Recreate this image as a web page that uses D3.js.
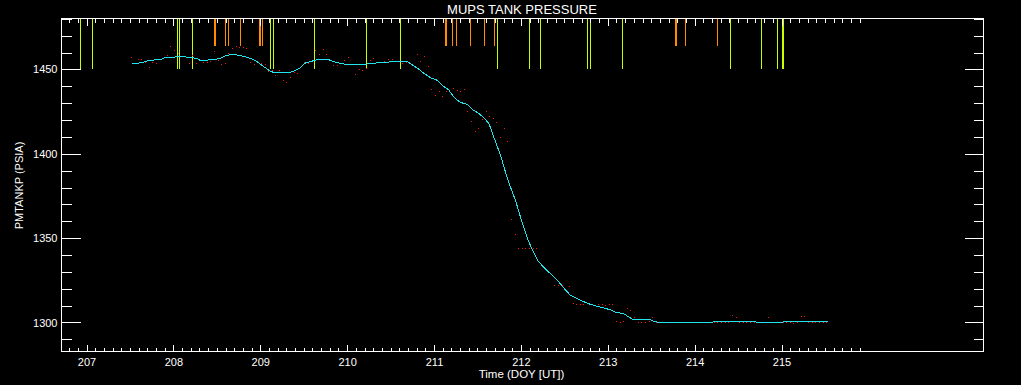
<!DOCTYPE html>
<html><head><meta charset="utf-8">
<script src="https://cdn.jsdelivr.net/npm/d3@7"></script>
<style>html,body{margin:0;padding:0;background:#000;overflow:hidden}svg{display:block}</style>
</head><body>
<svg id="c" width="1021" height="385"></svg>
<script>
const title = "MUPS TANK PRESSURE";
const xTitle = "Time (DOY [UT])";
const yTitle = "PMTANKP (PSIA)";
const xDomain = [206.712, 217.325];
const yDomain = [1282.8, 1480.2];
const xMajorTicks = [207, 208, 209, 210, 211, 212, 213, 214, 215];
const xMinorTicks = d3.range(2068, 2160).map(v => v / 10);
const yMajorTicks = [1300, 1350, 1400, 1450];
const yMinorTicks = d3.range(1290, 1481, 10);

const smoothT = [207.518,207.576,207.622,207.656,207.702,207.748,207.794,207.852,207.886,207.944,
207.990,208.059,208.117,208.174,208.232,208.278,208.312,208.370,208.427,208.485,
208.543,208.600,208.658,208.715,208.773,208.830,208.888,208.945,209.003,209.061,
209.118,209.176,209.233,209.325,209.383,209.429,209.464,209.521,209.579,209.659,
209.728,209.786,209.843,209.924,210.004,210.096,210.188,210.269,210.361,210.442,
210.522,210.614,210.695,210.730,210.787,210.822,210.879,210.960,211.041,211.110,
211.167,211.225,211.282,211.340,211.386,211.443,211.512,211.570,211.627,211.650,
211.674,211.731,211.766,211.823,211.881,211.938,211.996,212.031,212.077,212.134,
212.192,212.261,212.341,212.422,212.491,212.572,212.687,212.802,212.917,213.032,
213.090,213.182,213.297,213.493,213.527,213.584,214.206,214.218,214.701,214.713,
215.012,215.023,215.530];
const smoothV = [1453.4,1453.4,1454.0,1454.3,1455.2,1455.2,1455.8,1455.8,1456.7,1457.1,
1457.1,1457.7,1457.7,1457.1,1456.8,1456.3,1455.3,1455.3,1455.9,1455.9,
1456.7,1458.1,1458.7,1458.7,1458.1,1457.5,1456.5,1455.3,1453.0,1450.9,
1448.8,1448.0,1448.0,1448.0,1449.0,1450.0,1451.2,1453.9,1454.7,1455.8,
1455.9,1455.8,1454.7,1453.6,1452.8,1452.8,1453.0,1453.4,1454.0,1454.3,
1454.5,1454.6,1454.6,1453.4,1451.4,1450.3,1447.9,1445.1,1443.5,1439.9,
1438.0,1434.0,1431.2,1429.8,1429.3,1426.1,1424.1,1421.5,1418.2,1415.6,
1411.9,1403.9,1399.0,1389.1,1380.2,1372.3,1362.4,1356.5,1349.6,1342.7,
1336.8,1332.8,1328.9,1324.9,1320.6,1316.0,1313.1,1310.7,1309.1,1307.5,
1306.1,1305.2,1301.6,1301.6,1300.8,1300.0,1300.0,1300.6,1300.6,1300.0,
1300.0,1300.6,1300.6];

const rawT = [207.518,207.602,207.633,207.679,207.729,207.763,207.806,207.852,207.890,207.936,
207.970,208.016,208.062,208.143,208.189,208.224,208.270,208.350,208.396,208.431,
208.477,208.523,208.557,208.603,208.638,208.684,208.730,208.765,208.811,208.845,
208.891,208.937,208.972,209.018,209.064,209.098,209.145,209.179,209.225,209.271,
209.306,209.352,209.398,209.432,209.513,209.559,209.640,209.686,209.732,209.766,
209.847,209.893,209.973,210.019,210.100,210.146,210.181,210.227,210.273,210.307,
210.434,210.480,210.526,210.572,210.641,210.687,210.814,210.848,210.894,210.940,
210.975,211.021,211.067,211.101,211.147,211.228,211.274,211.309,211.355,211.389,
211.435,211.481,211.516,211.562,211.608,211.642,211.688,211.723,211.769,211.815,
211.850,211.896,211.942,211.976,212.022,212.057,212.103,212.149,212.184,212.391,
212.437,212.483,212.563,212.609,212.644,212.690,212.724,212.897,212.943,212.977,
213.023,213.058,213.104,213.150,213.185,213.231,213.265,213.311,213.357,213.392,
213.438,213.484,213.519,213.565,214.232,214.266,214.312,214.358,214.393,214.439,
214.485,214.520,214.566,214.600,214.646,214.692,214.853,215.026,215.060,215.106,
215.141,215.187,215.233,215.267,215.314,215.360,215.394,215.440,215.486,215.521];
const rawV = [1456.9,1455.8,1455.8,1454.0,1451.0,1454.0,1453.4,1455.9,1456.3,1458.1,
1463.5,1461.1,1459.3,1457.5,1453.4,1458.3,1453.4,1454.0,1454.0,1454.6,
1460.5,1455.2,1452.8,1453.4,1459.3,1462.3,1463.5,1462.9,1462.9,1462.3,
1454.0,1452.8,1454.0,1453.4,1452.8,1448.6,1449.2,1446.3,1449.2,1443.3,
1442.1,1445.1,1448.0,1447.5,1454.0,1453.4,1461.1,1458.7,1461.7,1458.7,
1452.2,1452.2,1455.2,1456.9,1446.9,1449.8,1449.2,1450.4,1455.2,1456.3,
1454.6,1455.8,1455.8,1454.6,1453.4,1454.0,1458.7,1454.6,1457.5,1451.6,
1438.0,1434.4,1436.8,1433.8,1436.8,1438.6,1437.4,1436.8,1438.0,1424.9,
1419.0,1413.1,1414.8,1420.2,1424.9,1422.0,1420.8,1418.4,1409.5,1414.8,
1407.1,1360.9,1352.0,1343.7,1343.7,1343.7,1343.7,1343.7,1343.7,1321.8,
1321.8,1321.8,1321.2,1311.1,1310.5,1310.5,1310.5,1310.5,1310.5,1309.9,
1310.5,1310.5,1300.4,1300.0,1300.4,1308.1,1306.9,1302.8,1300.0,1300.0,
1300.0,1300.4,1302.8,1300.0,1300.0,1300.0,1300.0,1300.0,1300.0,1304.0,
1302.8,1300.0,1300.0,1300.0,1300.0,1300.0,1302.8,1300.0,1300.0,1300.0,
1299.4,1300.0,1303.4,1303.4,1300.0,1300.0,1300.0,1300.0,1300.0,1300.0];

// event markers: green ones reach down to 1450, orange ones to 1464
const greenEventT = [206.931,207.069,208.047,208.070,208.220,209.118,209.153,209.624,210.223,210.614,
211.731,212.099,212.226,212.767,212.801,213.170,214.413,214.770,214.954,215.012,215.023];
const orangeEventT = [208.473,208.485,208.600,208.635,208.773,208.991,209.003,209.026,211.132,211.144,
211.213,211.259,211.420,211.581,211.696,213.780,213.791,213.895,214.263];
const greenLevel = 1450;
const orangeLevel = 1464;

const svg = d3.select("#c");
svg.append("rect").attr("width", 1021).attr("height", 385).attr("fill", "#000");
const x = d3.scaleLinear().domain(xDomain).range([61.5, 983.5]);
const y = d3.scaleLinear().domain(yDomain).range([351.5, 18.5]);
const FONT = "'Liberation Sans', Arial, sans-serif";

// event lines
const ev = svg.append("g").attr("shape-rendering", "crispEdges");
ev.selectAll("line.g").data(greenEventT).join("line")
  .attr("x1", d => Math.floor(x(d)) + 0.5).attr("x2", d => Math.floor(x(d)) + 0.5)
  .attr("y1", y(yDomain[1])).attr("y2", y(greenLevel))
  .attr("stroke", "#c8ff00").attr("stroke-width", 1);
ev.selectAll("line.o").data(orangeEventT).join("line")
  .attr("x1", d => Math.floor(x(d)) + 0.5).attr("x2", d => Math.floor(x(d)) + 0.5)
  .attr("y1", y(yDomain[1])).attr("y2", y(orangeLevel))
  .attr("stroke", "#ff8c00").attr("stroke-width", 1);

// raw samples
svg.append("g").selectAll("rect").data(rawT.map((t, i) => [t, rawV[i]])).join("rect")
  .attr("x", d => Math.floor(x(d[0]))).attr("y", d => Math.floor(y(d[1])))
  .attr("width", 1).attr("height", 1).attr("fill", "#ff1010");

// smoothed line
const line = d3.line().x(d => x(d[0])).y(d => y(d[1]));
svg.append("path").datum(smoothT.map((t, i) => [t, smoothV[i]]))
  .attr("d", line).attr("fill", "none").attr("stroke", "#22e4ec").attr("stroke-width", 1)
  .attr("shape-rendering", "crispEdges");

// axes
function style(g) {
  g.select(".domain").remove();
  g.selectAll("line").attr("stroke", "#fff").attr("stroke-width", 1);
  g.selectAll("text").attr("fill", "#fff").attr("font-family", FONT).attr("font-size", 11);
  g.attr("shape-rendering", "crispEdges");
}
// bottom
svg.append("g").attr("transform", "translate(0,351.5)")
  .call(d3.axisBottom(x).tickValues(xMinorTicks).tickSizeInner(-4).tickSizeOuter(0).tickFormat(""))
  .call(style);
svg.append("g").attr("transform", "translate(0,351.5)")
  .call(d3.axisBottom(x).tickValues(xMajorTicks).tickSizeInner(-7).tickSizeOuter(0).tickPadding(7).tickFormat(d3.format("d")))
  .call(style);
// top
svg.append("g").attr("transform", "translate(0,18.5)")
  .call(d3.axisBottom(x).tickValues(xMinorTicks).tickSizeInner(4).tickSizeOuter(0).tickFormat(""))
  .call(style);
svg.append("g").attr("transform", "translate(0,18.5)")
  .call(d3.axisBottom(x).tickValues(xMajorTicks).tickSizeInner(7).tickSizeOuter(0).tickFormat(""))
  .call(style);
// left
svg.append("g").attr("transform", "translate(61.5,0)")
  .call(d3.axisLeft(y).tickValues(yMinorTicks).tickSizeInner(-10).tickSizeOuter(0).tickFormat(""))
  .call(style);
svg.append("g").attr("transform", "translate(61.5,0)")
  .call(d3.axisLeft(y).tickValues(yMajorTicks).tickSizeInner(-19).tickSizeOuter(0).tickPadding(4).tickFormat(d3.format("d")))
  .call(style);
// right
svg.append("g").attr("transform", "translate(983.5,0)")
  .call(d3.axisRight(y).tickValues(yMinorTicks).tickSizeInner(-10).tickSizeOuter(0).tickFormat(""))
  .call(style);
svg.append("g").attr("transform", "translate(983.5,0)")
  .call(d3.axisRight(y).tickValues(yMajorTicks).tickSizeInner(-19).tickSizeOuter(0).tickFormat(""))
  .call(style);

// frame
svg.append("rect").attr("x", 61.5).attr("y", 18.5).attr("width", 922).attr("height", 333)
  .attr("fill", "none").attr("stroke", "#fff").attr("stroke-width", 1).attr("shape-rendering", "crispEdges");

// titles
svg.append("text").attr("x", 522).attr("y", 13.5).attr("text-anchor", "middle")
  .attr("fill", "#fff").attr("font-family", FONT).attr("font-size", 13).text(title);
svg.append("text").attr("x", 521.5).attr("y", 377.5).attr("text-anchor", "middle")
  .attr("fill", "#fff").attr("font-family", FONT).attr("font-size", 11.5).text(xTitle);
svg.append("text").attr("transform", "translate(22.5,185.5) rotate(-90)").attr("text-anchor", "middle")
  .attr("fill", "#fff").attr("font-family", FONT).attr("font-size", 11).text(yTitle);
</script>
</body></html>
